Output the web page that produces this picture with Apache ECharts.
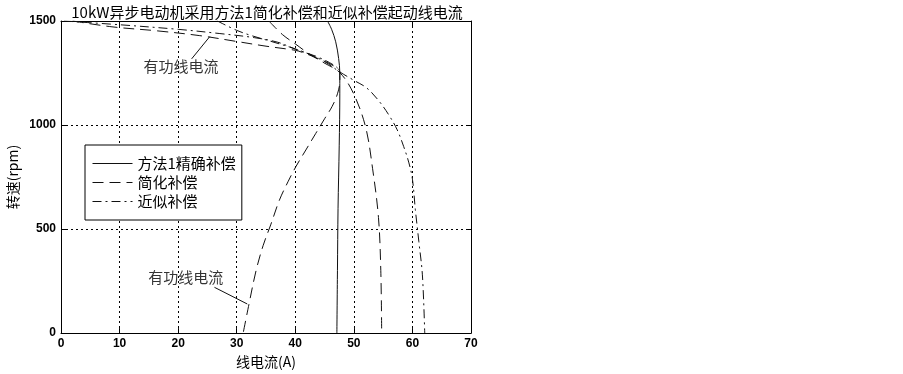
<!DOCTYPE html>
<html>
<head>
<meta charset="utf-8">
<script src="https://cdn.jsdelivr.net/npm/echarts@6/dist/echarts.min.js"></script>
<style>html,body{margin:0;padding:0;background:#fff;}#c{width:903px;height:374px;}</style>
</head>
<body>
<div id="c"></div>
<script>
// ---- data (current in A, speed in rpm) ----
const preciseTotalI = [45.5, 46.2, 46.9, 47.4, 47.6, 47.6, 47.5, 47.3, 47.2, 47.1];
const preciseTotalN = [1500, 1460, 1400, 1320, 1250, 1150, 900, 600, 300, 0];

const simplifiedTotalI = [35.5, 37.8, 40.1, 42.4, 44.9, 47.6, 49.9, 52.0, 53.2, 54.2, 54.6, 54.75];
const simplifiedTotalN = [1500, 1435, 1388, 1341, 1299, 1252, 1154, 991, 790, 556, 300, 0];

const approxTotalI = [26.7, 30.0, 32.5, 35.5, 39.0, 42.0, 45.0, 47.6, 50.0, 52.2, 54.3, 56.0, 57.4, 58.5, 59.4, 60.0, 60.5, 61.1, 61.7, 62.1];
const approxTotalN = [1500, 1455, 1430, 1405, 1375, 1345, 1305, 1255, 1215, 1178, 1115, 1047, 977, 897, 818, 740, 593, 439, 280, 0];

const simplifiedActiveI = [2.0, 8.7, 16.3, 23.6, 29.9, 35.0, 38.9, 40.6, 44.0, 46.5, 47.6, 47.6, 47.2, 46.3, 45.0, 43.5, 41.8, 40.1, 38.8, 37.3, 35.8, 34.5, 33.3, 32.1, 31.1];
const simplifiedActiveN = [1500, 1472, 1453, 1430, 1402, 1379, 1364, 1355, 1318, 1285, 1255, 1210, 1150, 1090, 1030, 960, 880, 800, 730, 640, 520, 420, 300, 140, 0];

const approxActiveI = [0.5, 10.0, 20.0, 27.0, 33.0, 37.0, 40.0, 44.0, 47.0, 47.6];
const approxActiveN = [1500, 1482, 1460, 1440, 1420, 1398, 1365, 1325, 1280, 1255];

// annotations
const labelText = '有功线电流';
const upperLabelPos = [20.5, 1282];
const upperLeaderI = [22.3, 25.4];
const upperLeaderN = [1318, 1425];
const lowerLabelPos = [21.3, 266];
const lowerLeaderI = [26.2, 31.8];
const lowerLeaderN = [220, 140];

const legendNames = ['方法1精确补偿', '简化补偿', '近似补偿'];
const titleText = '10kW异步电动机采用方法1简化补偿和近似补偿起动线电流';

function pairs(xs, ys) { return xs.map((x, i) => [x, ys[i]]); }

const CJK = '"Noto Sans CJK SC", "Liberation Sans", sans-serif';
const NUM = '"Liberation Sans", Arial, sans-serif';

const solid = { color: '#111', width: 1, type: 'solid' };
const dashed = { color: '#111', width: 1, type: [11, 6] };
const dashDot = { color: '#111', width: 1, type: [9, 4, 2, 4] };

function lineSeries(name, data, style) {
  return {
    name: name, type: 'line', data: data, symbol: 'none', smooth: 0.35,
    lineStyle: style, itemStyle: { color: '#111' }, animation: false, z: 3
  };
}

const baseAxis = {
  type: 'value',
  axisLine: { show: true, onZero: false, lineStyle: { color: '#000', width: 1 } },
  axisTick: { show: true, inside: true, length: 5, lineStyle: { color: '#000' } },
  axisLabel: { color: '#000', fontFamily: NUM, fontSize: 12, fontWeight: 'bold', margin: 5,
    formatter: function (v) { return String(v); } },
  splitLine: { show: true, lineStyle: { color: '#000', type: [2, 3], width: 1 } }
};

const chart = echarts.init(document.getElementById('c'), null, { renderer: 'canvas' });
chart.setOption({
  animation: false,
  backgroundColor: '#fff',
  title: {
    text: titleText, left: 262, top: 0, textAlign: 'center',
    textStyle: { fontFamily: CJK, fontSize: 15, fontWeight: 'normal', color: '#000' }
  },
  grid: { left: 61, right: 432, top: 21, bottom: 32 },
  legend: {
    data: legendNames, orient: 'vertical', left: 85, top: 145,
    itemWidth: 40, itemHeight: 14, itemGap: 4,
    padding: [11, 6, 11, 7],
    backgroundColor: '#fff', borderColor: '#000', borderWidth: 1,
    itemStyle: { opacity: 0 },
    lineStyle: { width: 1, inactiveWidth: 1 },
    textStyle: { fontFamily: CJK, fontSize: 15, color: '#000' }
  },
  xAxis: [
    Object.assign({}, baseAxis, {
      min: 0, max: 70, interval: 10, position: 'bottom',
      name: '线电流(A)', nameLocation: 'middle', nameGap: 19,
      nameTextStyle: { fontFamily: CJK, fontSize: 14, color: '#000' }
    }),
    Object.assign({}, baseAxis, {
      min: 0, max: 70, interval: 10, position: 'top',
      axisLabel: { show: false }, splitLine: { show: false }
    })
  ],
  yAxis: [
    Object.assign({}, baseAxis, {
      min: 0, max: 1500, interval: 500, position: 'left',
      name: '转速(rpm)', nameLocation: 'middle', nameGap: 41, nameRotate: 90,
      nameTextStyle: { fontFamily: CJK, fontSize: 14, color: '#000' }
    }),
    Object.assign({}, baseAxis, {
      min: 0, max: 1500, interval: 500, position: 'right',
      axisLabel: { show: false }, splitLine: { show: false }
    })
  ],
  series: [
    lineSeries(legendNames[0], pairs(preciseTotalI, preciseTotalN), solid),
    lineSeries(legendNames[1], pairs(simplifiedTotalI, simplifiedTotalN), dashed),
    lineSeries(legendNames[2], pairs(approxTotalI, approxTotalN), dashDot),
    lineSeries('简化补偿有功', pairs(simplifiedActiveI, simplifiedActiveN), dashed),
    lineSeries('近似补偿有功', pairs(approxActiveI, approxActiveN), dashDot),
    Object.assign(lineSeries('leader1', pairs(upperLeaderI, upperLeaderN), solid), { smooth: false }),
    Object.assign(lineSeries('leader2', pairs(lowerLeaderI, lowerLeaderN), solid), { smooth: false }),
    {
      name: 'labels', type: 'scatter', symbolSize: 0, animation: false, z: 4,
      data: [upperLabelPos, lowerLabelPos],
      label: {
        show: true, position: 'inside', formatter: labelText,
        fontFamily: CJK, fontSize: 15, color: '#000'
      }
    }
  ]
});
</script>
</body>
</html>
